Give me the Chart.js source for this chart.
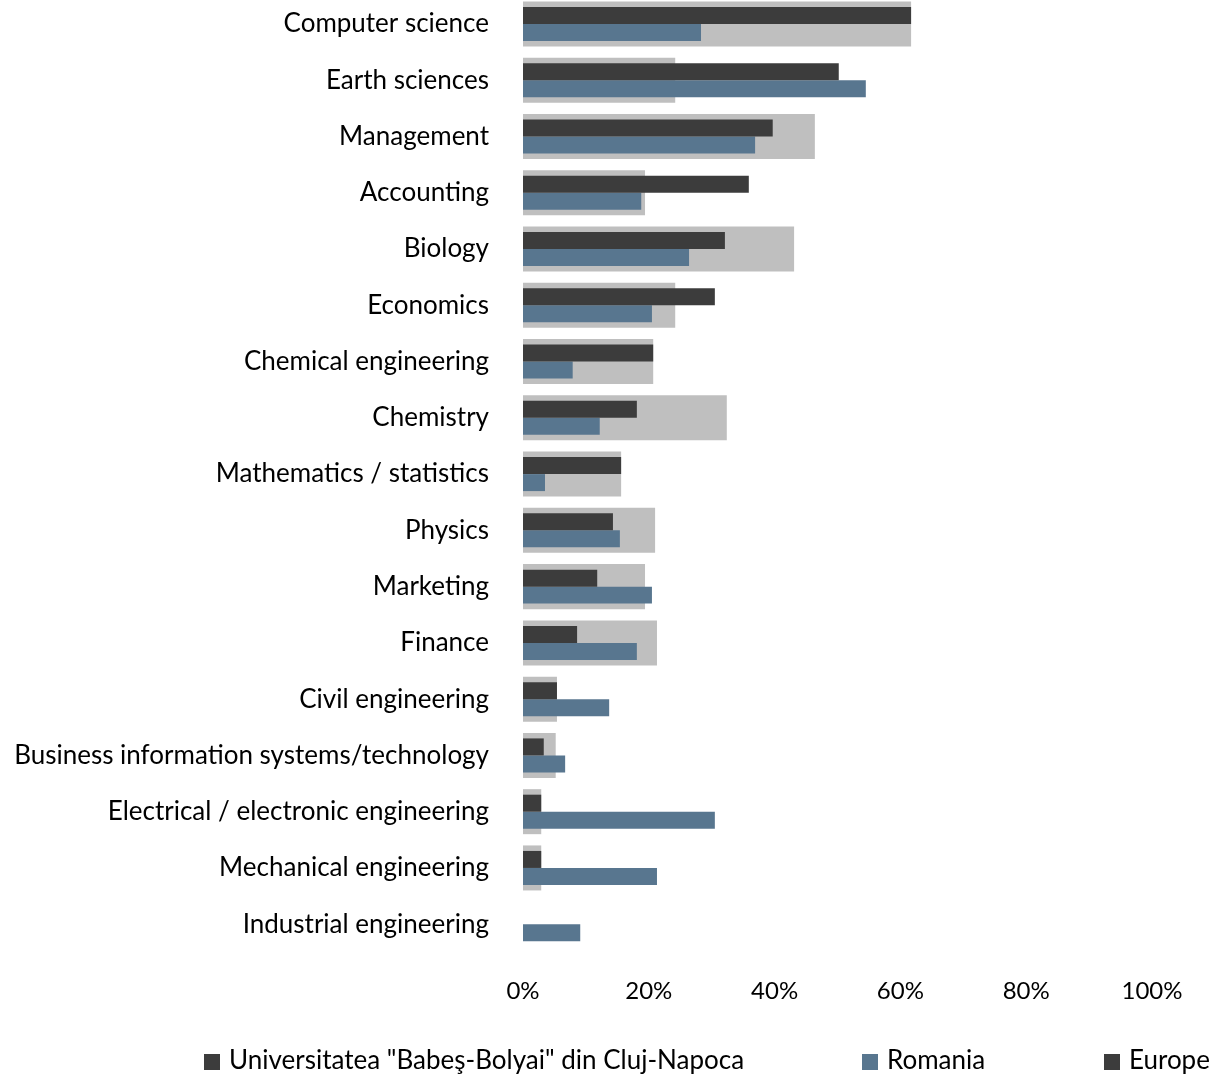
<!DOCTYPE html>
<html>
<head>
  <title>Fields of study</title>
  <script src="https://cdn.jsdelivr.net/npm/chart.js"></script>
  <style>
    body { margin: 0; background: #fff; font-family: Lato, "Open Sans", sans-serif; }
    #wrap { position: relative; width: 1211px; height: 1074px; }
    #legend { position: absolute; left: 0; top: 1045px; width: 1211px; height: 29px; font-size: 26px; color: #000; }
    .item { position: absolute; top: 0; white-space: nowrap; line-height: 29px; }
    .box { display: inline-block; width: 16px; height: 16px; margin-right: 9px; vertical-align: -1px; }
  </style>
</head>
<body>
  <div id="wrap">
    <canvas id="chart" width="1211" height="1074"></canvas>
    <div id="legend"></div>
  </div>

  <script>
    const fields = [
      "Computer science", "Earth sciences", "Management", "Accounting", "Biology",
      "Economics", "Chemical engineering", "Chemistry", "Mathematics / statistics",
      "Physics", "Marketing", "Finance", "Civil engineering",
      "Business information systems/technology", "Electrical / electronic engineering",
      "Mechanical engineering", "Industrial engineering"
    ];
    const ubb     = [61.7, 50.2, 39.7, 35.9, 32.1, 30.5, 20.7, 18.1, 15.6, 14.3, 11.8, 8.6, 5.4, 3.3, 2.9, 2.9, 0];
    const romania = [28.3, 54.5, 36.9, 18.8, 26.4, 20.5, 7.9, 12.2, 3.5, 15.4, 20.5, 18.1, 13.7, 6.7, 30.5, 21.3, 9.1];
    const europe  = [61.7, 24.2, 46.4, 19.4, 43.1, 24.2, 20.7, 32.4, 15.6, 21.0, 19.4, 21.3, 5.4, 5.2, 2.9, 2.9, 0];
    const xTicks = [0, 20, 40, 60, 80, 100];

    const legendItems = [
      { label: 'Universitatea "Babeş-Bolyai" din Cluj-Napoca', color: "#3c3c3c", left: 204 },
      { label: "Romania", color: "#58768f", left: 862 },
      { label: "Europe", color: "#3c3c3c", left: 1104 }
    ];

    const labelFont = { family: "Lato, 'Open Sans', sans-serif", size: 26 };
    const tickFont = { family: "Lato, 'Open Sans', sans-serif", size: 24 };

    new Chart(document.getElementById("chart"), {
      type: "bar",
      data: {
        labels: fields,
        datasets: [
          { label: legendItems[0].label, data: ubb, backgroundColor: "#3c3c3c",
            order: 0, barPercentage: 1, categoryPercentage: 0.604, clip: false },
          { label: "Romania", data: romania, backgroundColor: "#58768f",
            order: 1, barPercentage: 1, categoryPercentage: 0.604, clip: false },
          { label: "Europe", data: europe, backgroundColor: "#bfbfbf",
            order: 2, grouped: false, barPercentage: 0.8, categoryPercentage: 1, clip: false }
        ]
      },
      options: {
        indexAxis: "y",
        responsive: false,
        animation: false,
        layout: { padding: { top: 24, right: 59, bottom: 68, left: 0 } },
        plugins: { legend: { display: false }, tooltip: { enabled: false } },
        scales: {
          y: {
            offset: false,
            // grid hidden, tick length only used as label gap
            grid: { display: false, drawTicks: true, tickLength: 34 },
            border: { display: false },
            ticks: { color: "#000", font: labelFont, padding: 0 },
            afterFit: (s) => { s.width = 523; }
          },
          x: {
            min: 0, max: 100,
            grid: { display: false, drawTicks: true, tickLength: 53 },
            border: { display: false },
            afterBuildTicks: (s) => { s.ticks = xTicks.map(v => ({ value: v })); },
            ticks: { color: "#000", font: tickFont, padding: 0, callback: v => v + "%" }
          }
        }
      }
    });

    const legend = document.getElementById("legend");
    legendItems.forEach(it => {
      const d = document.createElement("div");
      d.className = "item";
      d.style.left = it.left + "px";
      d.innerHTML = '<span class="box" style="background:' + it.color + '"></span>';
      d.appendChild(document.createTextNode(it.label));
      legend.appendChild(d);
    });
  </script>
</body>
</html>
